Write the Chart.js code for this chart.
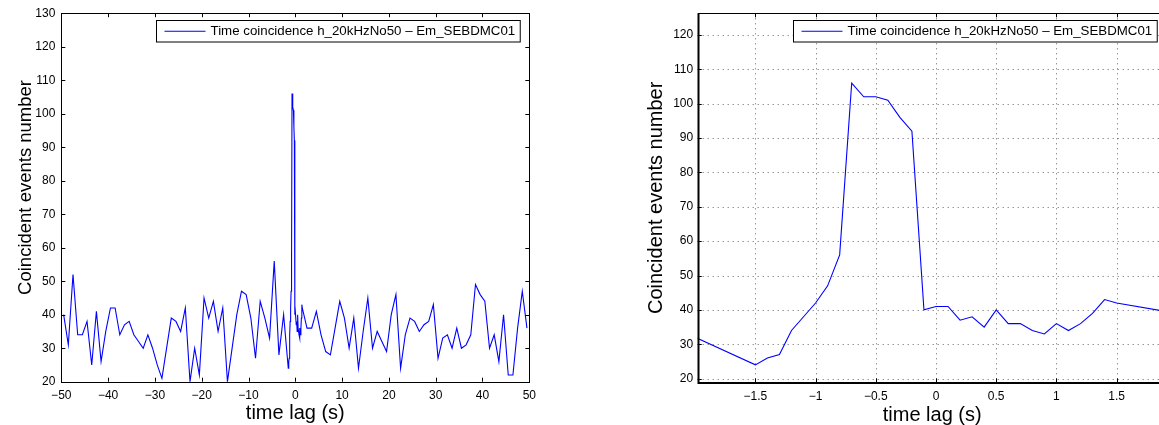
<!DOCTYPE html>
<html>
<head>
<meta charset="utf-8">
<script src="https://cdn.jsdelivr.net/npm/chart.js@4.4.0/dist/chart.umd.min.js"></script>
<style>
html, body { margin: 0; padding: 0; background: #fff; overflow: hidden; width: 1159px; height: 425px; }
.box { position: absolute; top: 0; height: 425px; }
#leftBox { left: 0; width: 580px; }
#rightBox { left: 600px; width: 600px; }
</style>
</head>
<body>
<div id="leftBox" class="box"><canvas id="wideCanvas" width="580" height="425"></canvas></div>
<div id="rightBox" class="box"><canvas id="zoomCanvas" width="600" height="425"></canvas></div>
<script>
var lagSeconds = [
    -49.5, -48.5, -47.5, -46.5, -45.5, -44.5, -43.5, -42.5, -41.5, -40.5,
    -39.5, -38.5, -37.5, -36.5, -35.5, -34.5, -33.5, -32.5, -31.5, -30.5,
    -29.5, -28.5, -27.5, -26.5, -25.5, -24.5, -23.5, -22.5, -21.5, -20.5,
    -19.5, -18.5, -17.5, -16.5, -15.5, -14.5, -13.5, -12.5, -11.5, -10.5,
    -9.5, -8.5, -7.5, -6.5, -5.5, -4.5, -3.5, -2.5,
    -1.5, -1.4, -1.3, -1.2, -1.1, -1.0, -0.9, -0.8, -0.7, -0.6, -0.5,
    -0.4, -0.3, -0.2, -0.1, 0, 0.1, 0.2, 0.3, 0.4, 0.5,
    0.6, 0.7, 0.8, 0.9, 1.0, 1.1, 1.2, 1.3, 1.4, 1.5,
    2.5, 3.5, 4.5, 5.5, 6.5, 7.5, 8.5, 9.5, 10.5, 11.5,
    12.5, 13.5, 14.5, 15.5, 16.5, 17.5, 18.5, 19.5, 20.5, 21.5,
    22.5, 23.5, 24.5, 25.5, 26.5, 27.5, 28.5, 29.5, 30.5, 31.5,
    32.5, 33.5, 34.5, 35.5, 36.5, 37.5, 38.5, 39.5, 40.5, 41.5,
    42.5, 43.5, 44.5, 45.5, 46.5, 47.5, 48.5, 49.5
];
var coincidentCounts = [
    40, 31, 52, 34, 34, 38, 25, 41, 26, 35,
    42, 42, 34, 37, 38, 34, 32, 30, 34, 30,
    25, 21, 30, 39, 38, 35, 42, 20, 30, 22,
    45, 39, 44, 35, 42, 20, 30, 40, 47, 46,
    39, 27, 44, 39, 33, 56, 28, 40,
    24, 26, 27, 34, 38, 42, 47, 56, 106, 102, 102,
    101, 96, 92, 40, 41, 41, 37, 38, 35, 40,
    36, 36, 34, 33, 36, 34, 36, 39, 43, 42,
    36, 36, 41, 34, 29, 28, 36, 44, 39, 30,
    39, 24, 35, 45, 30, 35, 32, 29, 40, 46,
    24, 34, 39, 38, 35, 37, 38, 43, 27, 33,
    34, 30, 36, 30, 31, 34, 49, 46, 44, 30,
    34, 26, 40, 22, 22, 36, 47, 36
];
var wideXTicks = [-50, -40, -30, -20, -10, 0, 10, 20, 30, 40, 50];
var wideYTicks = [20, 30, 40, 50, 60, 70, 80, 90, 100, 110, 120, 130];
var zoomXTicks = [-1.5, -1, -0.5, 0, 0.5, 1, 1.5];
var zoomYTicks = [20, 30, 40, 50, 60, 70, 80, 90, 100, 110, 120];
var seriesLabel = 'Time coincidence h_20kHzNo50 \u2013 Em_SEBDMC01';
var xTitle = 'time lag (s)';
var yTitle = 'Coincident events number';

var FONT = '"Liberation Sans", Arial, Helvetica, sans-serif';

function MinusSign(v) {
    return String(v).replace('-', '\u2212');
}

var matlabAxes = {
    id: 'matlabAxes',
    beforeDatasetsDraw: function (chart) {
        var s = chart.options.plugins.matlabAxes;
        if (!s.grid) return;
        var ctx = chart.ctx, a = chart.chartArea;
        ctx.save();
        ctx.strokeStyle = 'rgba(0,0,0,0.6)';
        ctx.lineWidth = 1;
        ctx.setLineDash([1, 4]);
        s.xTicks.forEach(function (v) {
            var px = Math.round(chart.scales.x.getPixelForValue(v)) + 0.5;
            ctx.beginPath(); ctx.moveTo(px, a.top); ctx.lineTo(px, a.bottom); ctx.stroke();
        });
        s.yTicks.forEach(function (v) {
            var py = Math.round(chart.scales.y.getPixelForValue(v)) + 0.5;
            ctx.beginPath(); ctx.moveTo(a.left, py); ctx.lineTo(a.right, py); ctx.stroke();
        });
        ctx.restore();
    },
    afterDatasetsDraw: function (chart) {
        var s = chart.options.plugins.matlabAxes;
        var ctx = chart.ctx, a = chart.chartArea;
        ctx.save();
        ctx.strokeStyle = '#000';
        ctx.setLineDash([]);

        // box
        ctx.lineWidth = 1;
        ctx.strokeRect(Math.round(a.left) + 0.5, Math.round(a.top) + 0.5,
            Math.round(a.right - a.left), Math.round(a.bottom - a.top));
        if (s.heavyFrame) {
            ctx.lineWidth = 2;
            ctx.beginPath();
            ctx.moveTo(Math.round(a.left) + 0.5, a.top);
            ctx.lineTo(Math.round(a.left) + 0.5, Math.round(a.bottom) + 1);
            ctx.lineTo(a.right, Math.round(a.bottom) + 1);
            ctx.stroke();
        }

        // inward ticks
        ctx.lineWidth = 1;
        var tl = 4;
        s.xTicks.forEach(function (v) {
            var px = Math.round(chart.scales.x.getPixelForValue(v)) + 0.5;
            ctx.beginPath();
            ctx.moveTo(px, a.bottom); ctx.lineTo(px, a.bottom - tl);
            ctx.moveTo(px, a.top); ctx.lineTo(px, a.top + tl);
            ctx.stroke();
        });
        s.yTicks.forEach(function (v) {
            var py = Math.round(chart.scales.y.getPixelForValue(v)) + 0.5;
            ctx.beginPath();
            ctx.moveTo(a.left, py); ctx.lineTo(a.left + tl, py);
            ctx.moveTo(a.right, py); ctx.lineTo(a.right - tl, py);
            ctx.stroke();
        });

        // legend
        ctx.font = '13.3px ' + FONT;
        var label = chart.data.datasets[0].label;
        var tw = ctx.measureText(label).width;
        var bw = 8 + 41 + 5 + tw + 5, bh = 21.5;
        var bx = Math.round(a.right - s.legendRight - bw) + 0.5;
        var by = Math.round(a.top + 7) + 0.5;
        ctx.fillStyle = '#fff';
        ctx.fillRect(bx, by, bw, bh);
        ctx.strokeRect(bx, by, bw, bh);
        ctx.strokeStyle = '#0000ff';
        ctx.beginPath();
        ctx.moveTo(bx + 8, by + bh / 2); ctx.lineTo(bx + 49, by + bh / 2);
        ctx.stroke();
        ctx.fillStyle = '#000';
        ctx.textBaseline = 'middle';
        ctx.textAlign = 'left';
        ctx.fillText(label, bx + 54, by + bh / 2 + 0.5);

        // axis titles
        ctx.textBaseline = 'alphabetic';
        ctx.textAlign = 'center';
        ctx.font = '20px ' + FONT;
        ctx.fillText(xTitle, (a.left + a.right) / 2, a.bottom + s.xTitleGap);
        ctx.save();
        ctx.translate(a.left - s.yTitleGap, (a.top + a.bottom) / 2 + s.yTitleShift);
        ctx.rotate(-Math.PI / 2);
        ctx.font = s.yTitleSize + 'px ' + FONT;
        ctx.fillText(yTitle, 0, 0);
        ctx.restore();

        ctx.restore();
    }
};

function MakeChart(canvasId, s) {
    var points = lagSeconds.map(function (x, i) {
        return { x: x, y: coincidentCounts[i] };
    });
    var ctx = document.getElementById(canvasId).getContext('2d');
    return new Chart(ctx, {
        type: 'line',
        data: {
            datasets: [{
                label: seriesLabel,
                data: points,
                borderColor: '#0000ff',
                borderWidth: 1.1,
                pointRadius: 0,
                tension: 0,
                fill: false
            }]
        },
        options: {
            responsive: false,
            animation: false,
            events: [],
            layout: { padding: { top: s.top, right: s.right, bottom: 0, left: 0 } },
            plugins: {
                legend: { display: false },
                tooltip: { enabled: false },
                matlabAxes: s
            },
            scales: {
                x: {
                    type: 'linear',
                    min: s.xMin,
                    max: s.xMax,
                    afterFit: function (scale) { scale.height = s.axisBottom; },
                    afterBuildTicks: function (scale) {
                        scale.ticks = s.xTicks.map(function (v) { return { value: v }; });
                    },
                    grid: { display: false, drawTicks: false },
                    border: { display: false },
                    ticks: {
                        autoSkip: false,
                        maxRotation: 0,
                        padding: 7,
                        color: '#000',
                        font: { family: FONT, size: 12 },
                        callback: function (v) { return MinusSign(v); }
                    }
                },
                y: {
                    type: 'linear',
                    min: s.yMin,
                    max: s.yMax,
                    afterFit: function (scale) { scale.width = s.axisLeft; },
                    afterBuildTicks: function (scale) {
                        scale.ticks = s.yTicks.map(function (v) { return { value: v }; });
                    },
                    grid: { display: false, drawTicks: false },
                    border: { display: false },
                    ticks: {
                        autoSkip: false,
                        padding: s.yPad,
                        color: '#000',
                        font: { family: FONT, size: 12 },
                        callback: function (v) { return MinusSign(v); }
                    }
                }
            }
        },
        plugins: [matlabAxes]
    });
}

MakeChart('wideCanvas', {
    xMin: -50, xMax: 50, yMin: 20, yMax: 130,
    xTicks: wideXTicks, yTicks: wideYTicks,
    top: 12.3, right: 50.7, axisLeft: 61.3, axisBottom: 43.3,
    yPad: 6, grid: false, heavyFrame: false,
    legendRight: 10, xTitleGap: 37.6, yTitleGap: 30.8, yTitleSize: 18.5, yTitleShift: -10
});

MakeChart('zoomCanvas', {
    xMin: -1.979, xMax: 1.916, yMin: 18.9, yMax: 126.3,
    xTicks: zoomXTicks, yTicks: zoomYTicks,
    top: 13.3, right: 33.3, axisLeft: 97.7, axisBottom: 42.6,
    yPad: 4.5, grid: true, heavyFrame: true,
    legendRight: 10, xTitleGap: 38.5, yTitleGap: 36, yTitleSize: 20, yTitleShift: 0
});
</script>
</body>
</html>
